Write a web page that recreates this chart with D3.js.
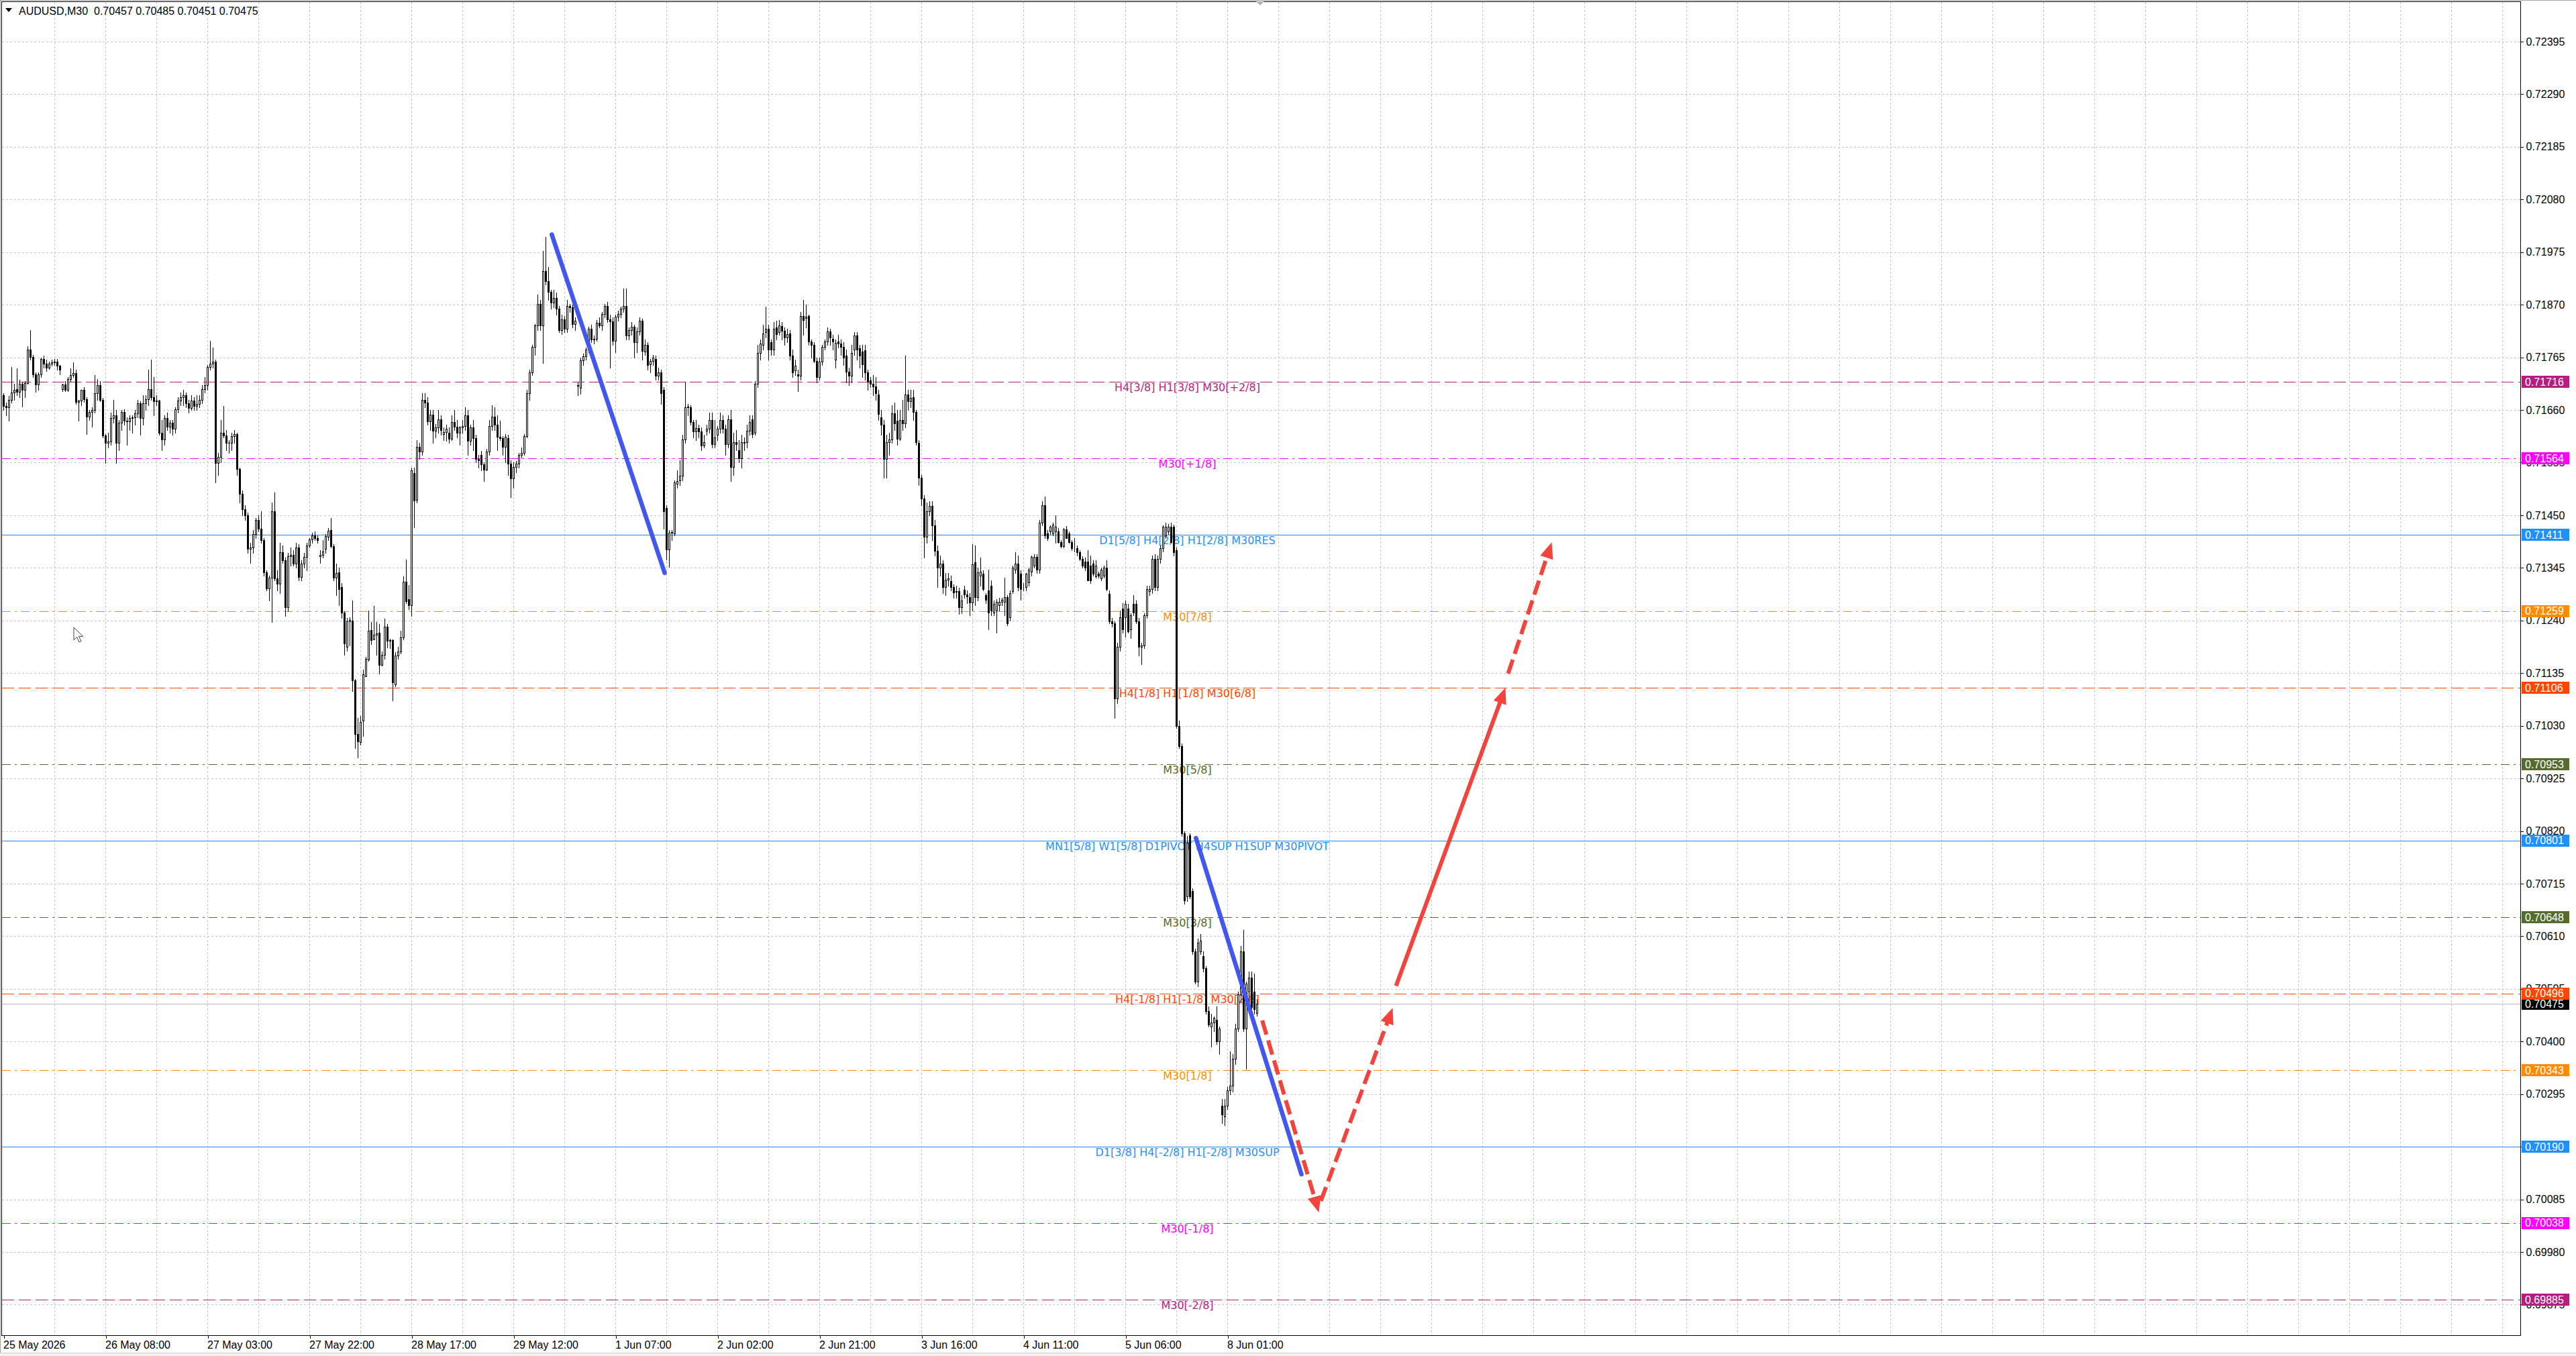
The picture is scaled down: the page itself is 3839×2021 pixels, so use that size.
<!DOCTYPE html>
<html>
<head>
<meta charset="utf-8">
<script src="https://cdn.jsdelivr.net/npm/d3@7"></script>
<style>
  body { margin: 0; background: #fff; }
  svg { display: block; }
</style>
</head>
<body>
<div id="chart"></div>
<script>
// AUDUSD M30 candles, one array per trading day.
// Each bar: [open, high, low, close] in 0.00001 above 0.70000
const may25 = [[1690,1694,1660,1668],[1668,1675,1650,1665],[1665,1688,1638,1680],[1680,1746,1675,1695],[1695,1712,1680,1700],[1702,1743,1690,1696],[1696,1720,1685,1712],[1712,1716,1667,1700],[1700,1718,1685,1714],[1714,1787,1712,1781],[1781,1820,1760,1766],[1766,1770,1725,1731],[1731,1735,1696,1711],[1711,1735,1700,1731],[1731,1765,1725,1762],[1762,1768,1745,1752],[1752,1760,1738,1745],[1745,1756,1742,1752],[1752,1760,1748,1755],[1755,1762,1750,1757],[1757,1762,1740,1749],[1749,1750,1731,1740]];
const may26 = [[1702,1712,1698,1711],[1711,1718,1698,1700],[1700,1725,1698,1722],[1722,1743,1718,1730],[1730,1755,1726,1734],[1734,1740,1672,1676],[1676,1680,1638,1679],[1679,1700,1670,1700],[1700,1705,1676,1681],[1681,1685,1612,1647],[1647,1660,1640,1656],[1656,1665,1627,1660],[1660,1730,1655,1694],[1694,1722,1680,1710],[1710,1718,1678,1680],[1680,1684,1605,1609],[1609,1612,1554,1595],[1595,1615,1585,1597],[1597,1655,1590,1644],[1644,1680,1635,1650],[1650,1660,1554,1595],[1595,1640,1580,1635],[1635,1660,1620,1656],[1656,1662,1630,1638],[1638,1645,1590,1637],[1637,1650,1620,1644],[1644,1650,1615,1646],[1646,1660,1630,1654],[1654,1680,1645,1673],[1673,1678,1610,1644],[1644,1690,1630,1673],[1673,1690,1660,1681],[1681,1740,1670,1702],[1702,1760,1680,1685],[1685,1725,1650,1678],[1678,1690,1670,1679],[1679,1680,1610,1615],[1615,1640,1580,1601],[1601,1650,1590,1644],[1644,1655,1620,1627],[1627,1640,1615,1635],[1635,1640,1610,1623],[1623,1665,1615,1662],[1662,1685,1655,1679],[1679,1695,1670,1685],[1685,1700,1670,1690],[1690,1695,1665,1673],[1673,1680,1655,1664]];
const may27 = [[1664,1690,1660,1679],[1679,1685,1660,1668],[1668,1690,1660,1672],[1672,1690,1665,1680],[1680,1710,1673,1702],[1702,1725,1695,1710],[1710,1750,1700,1746],[1746,1798,1740,1752],[1752,1785,1745,1757],[1757,1760,1516,1554],[1554,1575,1530,1566],[1566,1640,1555,1615],[1615,1668,1605,1609],[1609,1620,1580,1595],[1595,1600,1575,1594],[1594,1615,1580,1608],[1608,1620,1595,1612],[1612,1615,1530,1542],[1542,1545,1475,1493],[1493,1500,1450,1462],[1462,1470,1440,1450],[1450,1455,1375,1383],[1383,1395,1355,1386],[1386,1420,1375,1412],[1412,1445,1405,1441],[1441,1450,1418,1423],[1423,1458,1395,1400],[1400,1405,1330,1336],[1336,1340,1300,1304],[1304,1330,1280,1325],[1325,1476,1237,1458],[1458,1496,1320,1324],[1324,1340,1300,1313],[1313,1395,1295,1376],[1376,1390,1355,1360],[1360,1365,1249,1266],[1266,1375,1258,1368],[1368,1385,1350,1371],[1371,1380,1350,1354],[1354,1395,1345,1385],[1385,1392,1320,1327],[1327,1360,1320,1354],[1354,1375,1345,1367],[1367,1395,1340,1389],[1389,1405,1385,1402],[1402,1415,1395,1410],[1410,1418,1400,1405],[1405,1410,1395,1400]];
const may28 = [[1368,1380,1355,1371],[1371,1400,1365,1378],[1383,1412,1375,1409],[1407,1425,1400,1419],[1421,1445,1385,1388],[1388,1392,1320,1325],[1325,1354,1290,1335],[1336,1345,1270,1303],[1306,1315,1245,1256],[1256,1258,1171,1194],[1188,1245,1180,1238],[1238,1246,1190,1241],[1240,1280,1099,1120],[1120,1123,986,1014],[1014,1046,967,999],[998,1050,992,1037],[1040,1142,1010,1132],[1128,1168,1128,1164],[1162,1260,1160,1219],[1221,1237,1193,1201],[1202,1269,1202,1211],[1211,1237,1171,1214],[1215,1233,1134,1151],[1151,1178,1150,1172],[1172,1244,1164,1228],[1228,1233,1186,1200],[1200,1203,1185,1201],[1201,1202,1080,1117],[1113,1177,1108,1170],[1170,1187,1164,1178],[1178,1220,1174,1206],[1206,1328,1202,1318],[1318,1361,1274,1278],[1282,1311,1262,1271],[1271,1545,1249,1539],[1534,1545,1426,1479],[1481,1600,1475,1587],[1586,1595,1563,1577],[1577,1694,1570,1680],[1680,1694,1665,1675],[1675,1685,1630,1637],[1637,1660,1620,1651],[1651,1660,1595,1618],[1618,1632,1605,1625],[1625,1660,1615,1642],[1642,1650,1610,1620],[1612,1625,1600,1616],[1616,1630,1598,1622]];
const may29 = [[1614,1625,1595,1603],[1603,1650,1600,1636],[1636,1660,1620,1627],[1627,1640,1605,1615],[1615,1628,1590,1625],[1625,1640,1615,1628],[1628,1665,1620,1649],[1649,1660,1570,1599],[1599,1630,1590,1625],[1625,1640,1580,1604],[1604,1610,1555,1563],[1563,1570,1545,1560],[1570,1578,1540,1551],[1551,1555,1518,1541],[1541,1582,1540,1577],[1577,1640,1570,1628],[1628,1670,1620,1647],[1647,1665,1620,1630],[1630,1650,1580,1606],[1606,1638,1600,1604],[1604,1608,1570,1587],[1587,1612,1555,1606],[1604,1610,1530,1553],[1553,1560,1486,1524],[1524,1555,1505,1546],[1546,1558,1535,1553],[1553,1575,1545,1570],[1570,1585,1565,1575],[1575,1612,1570,1608],[1608,1700,1605,1694],[1694,1740,1680,1735],[1735,1790,1730,1786],[1786,1832,1770,1829],[1829,1890,1820,1872],[1872,1880,1820,1829],[1829,1977,1754,1937],[1937,2006,1910,1917],[1917,1945,1880,1896],[1896,1900,1862,1874],[1874,1900,1865,1884],[1884,1895,1850,1862],[1862,1868,1815,1819],[1819,1850,1812,1841],[1841,1848,1815,1822],[1822,1880,1815,1867],[1867,1872,1855,1865],[1865,1870,1825,1831],[1831,1845,1820,1838]];
const jun1 = [[1710,1715,1690,1708],[1704,1765,1692,1759],[1759,1772,1750,1767],[1767,1785,1760,1781],[1781,1826,1775,1822],[1822,1830,1795,1800],[1800,1808,1792,1802],[1802,1840,1798,1834],[1834,1845,1825,1829],[1829,1856,1820,1851],[1851,1872,1845,1867],[1867,1875,1835,1841],[1841,1850,1745,1837],[1837,1845,1790,1798],[1798,1850,1775,1846],[1846,1858,1838,1852],[1852,1866,1845,1862],[1862,1903,1855,1867],[1867,1903,1800,1808],[1808,1825,1800,1819],[1819,1835,1810,1826],[1826,1830,1765,1795],[1795,1825,1775,1817],[1817,1845,1810,1838],[1838,1842,1760,1778],[1777,1800,1770,1790],[1790,1795,1740,1750],[1751,1762,1735,1758],[1758,1770,1750,1765],[1762,1768,1720,1728],[1728,1745,1720,1735],[1735,1740,1672,1694],[1700,1705,1423,1458],[1465,1470,1361,1382],[1382,1420,1347,1415],[1415,1420,1400,1416],[1414,1520,1410,1516],[1513,1540,1505,1518],[1520,1560,1510,1529],[1529,1610,1520,1601],[1601,1716,1595,1666],[1667,1672,1650,1666],[1666,1670,1630,1636],[1636,1640,1605,1617],[1617,1640,1600,1624],[1624,1630,1605,1617],[1617,1625,1580,1589],[1589,1610,1585,1596]];
const jun2 = [[1619,1630,1610,1622],[1622,1655,1615,1640],[1640,1655,1585,1592],[1592,1640,1585,1605],[1610,1628,1600,1622],[1622,1655,1615,1640],[1640,1650,1615,1622],[1622,1630,1570,1592],[1592,1650,1585,1642],[1642,1660,1518,1546],[1546,1615,1530,1596],[1596,1620,1580,1592],[1580,1600,1555,1564],[1564,1610,1545,1596],[1594,1605,1580,1596],[1596,1630,1585,1619],[1619,1650,1610,1636],[1642,1650,1605,1612],[1614,1718,1610,1712],[1712,1790,1705,1774],[1774,1800,1760,1792],[1790,1830,1780,1813],[1816,1866,1805,1822],[1822,1830,1760,1781],[1795,1800,1770,1781],[1781,1835,1770,1822],[1825,1838,1800,1811],[1816,1840,1810,1829],[1827,1835,1800,1818],[1818,1825,1790,1804],[1804,1822,1795,1811],[1813,1820,1760,1769],[1769,1780,1725,1735],[1739,1760,1730,1749],[1731,1740,1698,1728],[1728,1855,1720,1848],[1848,1880,1810,1840],[1843,1870,1825,1846],[1848,1850,1790,1797],[1796,1800,1765,1790],[1790,1795,1755,1758],[1758,1765,1715,1726],[1726,1765,1720,1756],[1756,1790,1750,1786],[1786,1800,1780,1797],[1797,1825,1790,1817],[1817,1822,1790,1804],[1802,1810,1780,1797]];
const jun3 = [[1760,1800,1745,1794],[1797,1810,1785,1792],[1792,1800,1770,1786],[1786,1795,1750,1765],[1769,1780,1715,1737],[1737,1745,1710,1728],[1728,1790,1715,1774],[1781,1815,1770,1808],[1808,1815,1760,1781],[1783,1790,1745,1768],[1777,1790,1725,1751],[1779,1790,1720,1735],[1735,1740,1700,1716],[1719,1725,1705,1712],[1712,1730,1690,1707],[1707,1725,1680,1693],[1691,1700,1640,1652],[1645,1660,1610,1631],[1631,1640,1525,1562],[1562,1610,1525,1596],[1596,1615,1570,1601],[1601,1670,1595,1654],[1654,1675,1620,1633],[1639,1660,1590,1603],[1603,1660,1600,1640],[1640,1680,1620,1633],[1633,1769,1625,1691],[1691,1700,1660,1677],[1677,1700,1665,1684],[1686,1700,1640,1656],[1656,1660,1590,1596],[1594,1600,1510,1525],[1525,1530,1470,1483],[1483,1490,1366,1407],[1407,1475,1395,1458],[1458,1478,1450,1468],[1469,1478,1400,1430],[1430,1440,1370,1379],[1379,1390,1306,1345],[1345,1370,1330,1354],[1353,1360,1295,1306],[1306,1335,1290,1322],[1322,1335,1310,1324],[1319,1330,1300,1306],[1306,1312,1285,1296],[1297,1310,1285,1299],[1299,1305,1253,1266],[1266,1290,1255,1280]];
const jun4 = [[1301,1310,1285,1292],[1292,1300,1275,1288],[1287,1295,1250,1276],[1276,1393,1260,1352],[1356,1390,1270,1287],[1287,1345,1280,1336],[1330,1366,1310,1337],[1333,1340,1300,1303],[1290,1295,1275,1281],[1300,1341,1222,1256],[1310,1320,1250,1260],[1256,1280,1250,1273],[1260,1282,1215,1277],[1270,1285,1260,1277],[1277,1285,1270,1281],[1277,1325,1250,1286],[1286,1290,1230,1234],[1247,1300,1240,1294],[1299,1350,1295,1345],[1341,1376,1335,1354],[1354,1370,1300,1307],[1333,1340,1281,1303],[1307,1315,1300,1307],[1307,1335,1300,1333],[1316,1345,1310,1341],[1337,1370,1330,1367],[1350,1372,1345,1367],[1367,1372,1335,1341],[1341,1440,1335,1435],[1435,1478,1430,1470],[1470,1487,1405,1410],[1414,1420,1400,1405],[1418,1430,1412,1427],[1414,1435,1410,1431],[1418,1450,1395,1427],[1418,1425,1395,1397],[1397,1400,1385,1388],[1388,1425,1385,1422],[1422,1428,1405,1405],[1414,1418,1395,1397],[1397,1400,1380,1384],[1386,1405,1378,1386],[1384,1390,1370,1376],[1376,1380,1360,1363],[1363,1368,1345,1350],[1358,1365,1340,1345],[1358,1380,1320,1320],[1350,1370,1315,1320]];
const jun5 = [[1354,1360,1330,1333],[1328,1360,1325,1350],[1333,1338,1325,1329],[1324,1345,1320,1341],[1329,1350,1325,1346],[1346,1360,1300,1303],[1293,1300,1235,1239],[1239,1245,1228,1234],[1234,1238,1046,1085],[1085,1195,1075,1187],[1187,1260,1180,1247],[1264,1275,1215,1222],[1247,1280,1208,1273],[1264,1273,1215,1218],[1222,1255,1205,1251],[1273,1290,1250,1256],[1273,1280,1235,1239],[1239,1245,1170,1187],[1187,1195,1153,1190],[1190,1255,1185,1251],[1251,1310,1245,1303],[1299,1310,1290,1303],[1303,1370,1295,1363],[1363,1372,1300,1307],[1307,1370,1300,1363],[1363,1390,1355,1384],[1384,1430,1378,1427],[1410,1435,1405,1427],[1418,1433,1412,1427],[1427,1435,1395,1397],[1427,1431,1370,1376],[1380,1385,1025,1030],[1030,1040,985,990],[990,995,810,815],[815,820,675,682],[690,810,680,797],[811,815,685,690],[700,705,575,580],[580,585,515,520],[520,605,510,597],[580,615,575,601],[571,580,540,546],[546,550,455,460],[460,470,430,434],[430,455,390,438],[438,450,420,447],[443,470,395,400],[400,430,375,426]];
const jun8 = [[272,285,237,255],[251,285,233,272],[272,310,265,303],[303,380,295,312],[312,375,300,366],[366,435,355,426],[426,500,420,494],[494,590,480,580],[580,623,420,426],[426,520,345,515],[500,540,470,528],[528,540,460,468],[500,535,455,465],[457,485,451,475]];

// price axis ticks
const priceTicks = [0.72395,0.72290,0.72185,0.72080,0.71975,0.71870,0.71765,0.71660,0.71555,0.71450,0.71345,0.71240,0.71135,0.71030,0.70925,0.70820,0.70715,0.70610,0.70505,0.70400,0.70295,0.70190,0.70085,0.69980,0.69875];

// time axis: bar index and label
const timeTickBars = [0,38,76,114,152,190,228,266,304,342,380,418,456];
const timeTickLabels = ["25 May 2026","26 May 08:00","27 May 03:00","27 May 22:00","28 May 17:00","29 May 12:00","1 Jun 07:00","2 Jun 02:00","2 Jun 21:00","3 Jun 16:00","4 Jun 11:00","5 Jun 06:00","8 Jun 01:00"];

// Murrey math levels
const levelPrices = [0.71716,0.71564,0.71411,0.71259,0.71106,0.70953,0.70801,0.70648,0.70496,0.70343,0.70190,0.70038,0.69885];
const levelTexts = ["H4[3/8] H1[3/8] M30[+2/8]","M30[+1/8]","D1[5/8] H4[2/8] H1[2/8] M30RES","M30[7/8]","H4[1/8] H1[1/8] M30[6/8]","M30[5/8]","MN1[5/8] W1[5/8] D1PIVOT H4SUP H1SUP M30PIVOT","M30[3/8]","H4[-1/8] H1[-1/8] M30[2/8]","M30[1/8]","D1[3/8] H4[-2/8] H1[-2/8] M30SUP","M30[-1/8]","M30[-2/8]"];
const levelKinds = ["violet","magenta","blue","orange","red","olive","blue","olive","red","orange","blue","magenta","violet"];
const levelLabelBar = 441;

// hand drawn trend lines: [bar1, price1, bar2, price2]
const blueLines = [[204.2,0.72010,246.25,0.71335],[444.2,0.70806,483.5,0.70135]];
// forecast arrows: [bar1, price1, bar2, price2, dashed]
const redArrows = [[468.9,0.70442,490,0.70059,true],[490.75,0.70082,517.5,0.70467,true],[518.75,0.70511,559.5,0.71106,false],[560.5,0.71134,576.75,0.71396,true]];

// ---- styles ----
const kindStyle = {
  violet:  { color: "#B41E80", dash: "18,7" },
  magenta: { color: "#FF00FF", dash: "13,6,3,6" },
  blue:    { color: "#1E90FF", dash: null },
  orange:  { color: "#FF8C00", dash: "13,6,3,6" },
  red:     { color: "#FF4500", dash: "18,7" },
  olive:   { color: "#556B2F", dash: "13,6,3,6" }
};

const W = 3839, H = 2021;
const plot = { left: 3, top: 3, right: 3756, bottom: 1990 };
const axisFont = "'Liberation Sans', Arial, sans-serif";

const candles = [may25, may26, may27, may28, may29, jun1, jun2, jun3, jun4, jun5, jun8]
  .flat()
  .map((d, i) => ({ i, o: 0.7 + d[0] / 1e5, h: 0.7 + d[1] / 1e5, l: 0.7 + d[2] / 1e5, c: 0.7 + d[3] / 1e5 }));
const last = candles[candles.length - 1];

// 4px per bar
const x = d3.scaleLinear().domain([0, 100]).range([5.5, 405.5]);
const y = d3.scaleLinear().domain([0.72395, 0.69885]).range([62, 1937]);

const svg = d3.select("#chart").append("svg")
  .attr("width", W)
  .attr("height", H)
  .style("background", "#fff");

svg.append("defs").append("clipPath").attr("id", "plotClip")
  .append("rect")
  .attr("x", plot.left).attr("y", plot.top)
  .attr("width", plot.right - plot.left).attr("height", plot.bottom - plot.top);

// window chrome
svg.append("rect").attr("x", 0).attr("y", 0).attr("width", W).attr("height", 1).attr("fill", "#a0a0a0");
svg.append("rect").attr("x", 0).attr("y", 0).attr("width", 1).attr("height", H).attr("fill", "#a0a0a0");
svg.append("rect").attr("x", 0).attr("y", 2017).attr("width", W).attr("height", 4).attr("fill", "#f0f0f0");
svg.append("rect").attr("x", 0).attr("y", 2016).attr("width", W).attr("height", 1).attr("fill", "#d4d4d4");

const g = svg.append("g").attr("clip-path", "url(#plotClip)");

// grid
const grid = g.append("g")
  .attr("stroke", "#c4c4c4")
  .attr("stroke-dasharray", "3,3")
  .attr("shape-rendering", "crispEdges");

grid.selectAll("line.h").data(priceTicks).join("line")
  .attr("class", "h")
  .attr("x1", plot.left).attr("x2", plot.right)
  .attr("y1", d => Math.round(y(d)) + 0.5).attr("y2", d => Math.round(y(d)) + 0.5);

grid.selectAll("line.v").data(d3.range(19, 940, 19)).join("line")
  .attr("class", "v")
  .attr("x1", d => x(d)).attr("x2", d => x(d))
  .attr("y1", plot.top).attr("y2", plot.bottom);

// level lines
const levels = levelPrices.map((p, i) => ({ p, text: levelTexts[i], style: kindStyle[levelKinds[i]] }));

g.append("g").attr("shape-rendering", "crispEdges")
  .selectAll("line").data(levels).join("line")
  .attr("x1", plot.left).attr("x2", plot.right)
  .attr("y1", d => Math.round(y(d.p)) + 0.5).attr("y2", d => Math.round(y(d.p)) + 0.5)
  .attr("stroke", d => d.style.color)
  .attr("stroke-width", 1)
  .attr("stroke-dasharray", d => d.style.dash);

// current price line
g.append("line")
  .attr("x1", plot.left).attr("x2", plot.right)
  .attr("y1", Math.round(y(last.c)) + 0.5).attr("y2", Math.round(y(last.c)) + 0.5)
  .attr("stroke", "#b8b8b8")
  .attr("shape-rendering", "crispEdges");

// level captions
g.append("g")
  .selectAll("text").data(levels).join("text")
  .attr("x", x(levelLabelBar))
  .attr("y", d => y(d.p) + 14)
  .attr("text-anchor", "middle")
  .attr("font-family", "'DejaVu Sans', Verdana, sans-serif")
  .attr("font-size", 16)
  .attr("fill", d => d.style.color)
  .text(d => d.text);

// candles
const cg = g.append("g").attr("shape-rendering", "crispEdges");

cg.selectAll("line.wick").data(candles).join("line")
  .attr("class", "wick")
  .attr("x1", d => x(d.i)).attr("x2", d => x(d.i))
  .attr("y1", d => Math.round(y(Math.max(d.h, d.o, d.c))))
  .attr("y2", d => Math.round(y(Math.min(d.l, d.o, d.c))) + 1)
  .attr("stroke", "#000");

const bull = candles.filter(d => d.c >= d.o);
const bear = candles.filter(d => d.c < d.o);

cg.selectAll("rect.bull").data(bull).join("rect")
  .attr("class", "bull")
  .attr("x", d => x(d.i) - 1)
  .attr("y", d => Math.round(y(d.c)) + 0.5)
  .attr("width", 2)
  .attr("height", d => Math.max(0, Math.round(y(d.o)) - Math.round(y(d.c))))
  .attr("fill", "#fff")
  .attr("stroke", "#000");

cg.selectAll("rect.bear").data(bear).join("rect")
  .attr("class", "bear")
  .attr("x", d => x(d.i) - 1.5)
  .attr("y", d => Math.round(y(d.o)))
  .attr("width", 3)
  .attr("height", d => Math.max(1, Math.round(y(d.c)) - Math.round(y(d.o)) + 1))
  .attr("fill", "#000");

// trend lines
g.append("g").selectAll("line").data(blueLines).join("line")
  .attr("x1", d => x(d[0])).attr("y1", d => y(d[1]))
  .attr("x2", d => x(d[2])).attr("y2", d => y(d[3]))
  .attr("stroke", "#4257F0")
  .attr("stroke-width", 6.5)
  .attr("stroke-linecap", "round");

// forecast arrows
const arrowColor = "#F2443C";
const ag = g.append("g");
redArrows.forEach(d => {
  const x1 = x(d[0]), y1 = y(d[1]), x2 = x(d[2]), y2 = y(d[3]);
  const len = Math.hypot(x2 - x1, y2 - y1);
  const ux = (x2 - x1) / len, uy = (y2 - y1) / len;
  const head = 24, half = 10;
  ag.append("line")
    .attr("x1", x1).attr("y1", y1)
    .attr("x2", x2 - ux * (head - 4)).attr("y2", y2 - uy * (head - 4))
    .attr("stroke", arrowColor)
    .attr("stroke-width", 6)
    .attr("stroke-dasharray", d[4] ? "22,9" : null);
  const bx = x2 - ux * head, by = y2 - uy * head;
  ag.append("polygon")
    .attr("points", [[x2, y2], [bx - uy * half, by + ux * half], [bx + uy * half, by - ux * half]].map(p => p.join(",")).join(" "))
    .attr("fill", arrowColor);
});

// mouse pointer left on the chart
g.append("path")
  .attr("transform", "translate(110,935)")
  .attr("d", "M0,0 L0,19 L4.5,14.5 L8,22 L11,20.5 L7.5,13.5 L13.5,13.5 Z")
  .attr("fill", "#fff")
  .attr("stroke", "#444")
  .attr("stroke-width", 1);

// frame
svg.append("path")
  .attr("d", `M${plot.left - 0.5},${plot.bottom + 0.5} V${plot.top - 0.5} H${plot.right + 0.5} V${plot.bottom + 0.5} H${plot.left - 0.5}`)
  .attr("fill", "none")
  .attr("stroke", "#000")
  .attr("stroke-width", 1)
  .attr("shape-rendering", "crispEdges");

// chart shift marker
svg.append("polygon")
  .attr("points", "1872,2 1884,2 1878,8")
  .attr("fill", "#b0b0b0");

// price axis
const yAxis = d3.axisRight(y)
  .tickValues(priceTicks)
  .tickFormat(d3.format(".5f"))
  .tickSize(4)
  .tickPadding(4);

svg.append("g")
  .attr("transform", `translate(${plot.right + 0.5},0)`)
  .call(yAxis)
  .call(a => a.select(".domain").remove())
  .attr("font-family", axisFont)
  .attr("font-size", 16)
  .attr("color", "#000")
  .call(a => a.selectAll(".tick line").attr("shape-rendering", "crispEdges"));

// time axis
const xAxis = d3.axisBottom(x)
  .tickValues(timeTickBars)
  .tickFormat((d, i) => timeTickLabels[i])
  .tickSize(4)
  .tickPadding(4);

svg.append("g")
  .attr("transform", `translate(0,${plot.bottom + 0.5})`)
  .call(xAxis)
  .call(a => a.select(".domain").remove())
  .attr("font-family", axisFont)
  .attr("font-size", 16)
  .attr("color", "#000")
  .call(a => a.selectAll(".tick text").attr("text-anchor", "start").attr("x", -1))
  .call(a => a.selectAll(".tick line").attr("shape-rendering", "crispEdges"));

// price tags on the axis
const tagX = plot.right + 2, tagW = 71, tagH = 18;
const tags = svg.append("g").attr("font-family", axisFont).attr("font-size", 16);

function tag(p, color) {
  const cy = y(p);
  tags.append("rect")
    .attr("x", tagX).attr("y", Math.round(cy - tagH / 2))
    .attr("width", tagW).attr("height", tagH)
    .attr("fill", color);
  tags.append("text")
    .attr("x", tagX + 5).attr("y", cy)
    .attr("dy", "0.36em")
    .attr("fill", "#fff")
    .text(p.toFixed(5));
}
tag(last.c, "#000");
levels.forEach(d => tag(d.p, d.style.color));

// header
svg.append("polygon").attr("points", "8,12 18,12 13,18").attr("fill", "#000");
svg.append("text")
  .attr("x", 28).attr("y", 22)
  .attr("font-family", axisFont)
  .attr("font-size", 16)
  .attr("fill", "#000")
  .style("white-space", "pre")
  .text(`AUDUSD,M30  ${[last.o, last.h, last.l, last.c].map(v => v.toFixed(5)).join(" ")}`);
</script>
</body>
</html>
